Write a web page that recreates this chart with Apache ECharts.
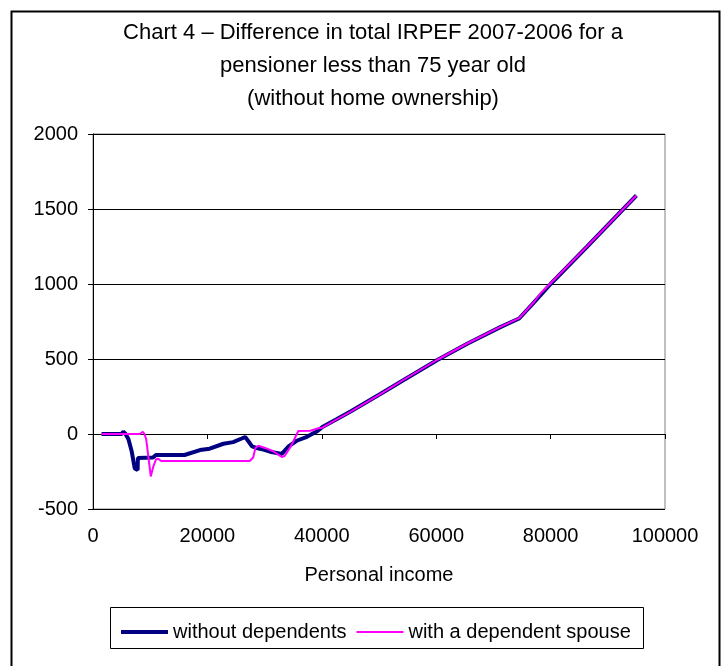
<!DOCTYPE html>
<html>
<head>
<meta charset="utf-8">
<script src="https://cdn.jsdelivr.net/npm/echarts@6/dist/echarts.min.js"></script>
<style>
  html, body { margin: 0; padding: 0; background: #fff; }
  #chart { width: 726px; height: 666px; }
</style>
</head>
<body>
<div id="chart"></div>
<script>
// Personal income (euro) and IRPEF difference 2007-2006 — pensioner without dependents
const incomeNoDep = [1500, 5000, 5300, 5700, 6200, 6750, 7300, 7800, 7850, 10500, 11000, 16000,
  18700, 20400, 22800, 24500, 26000, 26600, 27200, 27800, 28600, 29800, 31200, 33000, 34200,
  35600, 37400, 39100, 40100, 42500, 45100, 50300, 53800, 60200, 65500, 71300, 74500, 77100,
  80000, 86400, 95000];
const diffNoDep = [0, 0, 15, 0, -35, -113, -230, -240, -160, -157, -140, -140,
  -107, -98, -65, -54, -30, -20, -50, -83, -93, -104, -120, -133, -83,
  -45, -19, 16, 47, 97, 152, 268, 348, 493, 603, 714, 770, 877,
  1000, 1250, 1590];

// Pensioner with a dependent spouse
const incomeSpouse = [1500, 8200, 8700, 9000, 9300, 9700, 10100, 10500, 11000, 11400, 11900, 27400,
  28000, 28400, 28900, 30100, 31500, 33000, 33500, 34700, 35500, 35900, 38000, 39400, 40100,
  42500, 45100, 50300, 53800, 60200, 65500, 71300, 74500, 77100, 78300, 80000, 86400, 95000];
const diffSpouse = [0, 0, 15, 0, -35, -157, -283, -223, -170, -165, -180, -180,
  -157, -93, -78, -93, -115, -153, -147, -76, -10, 20, 22, 38, 42,
  95, 150, 268, 350, 495, 605, 716, 772, 880, 940, 1005, 1252, 1590];

const xTicks = [0, 20000, 40000, 60000, 80000, 100000];
const yTicks = [-500, 0, 500, 1000, 1500, 2000];

const seriesNames = ['without dependents', 'with a dependent spouse'];
const titleLines = [
  'Chart 4 \u2013 Difference in total IRPEF 2007-2006 for a',
  'pensioner less than 75 year old',
  '(without home ownership)'
];

const pairs = (xs, ys) => xs.map((x, i) => [x, ys[i]]);
const plain = v => String(v);
const FONT = '"Liberation Sans", Arial, sans-serif';

const chart = echarts.init(document.getElementById('chart'), null, { renderer: 'canvas' });
chart.setOption({
  animation: false,
  backgroundColor: '#ffffff',
  textStyle: { fontFamily: FONT },
  title: {
    text: titleLines.join('\n'),
    left: 368, top: 11, textAlign: 'center',
    textStyle: { fontFamily: FONT, fontSize: 22, fontWeight: 'normal', color: '#000', lineHeight: 33 }
  },
  graphic: [
    { type: 'rect', shape: { x: 11.5, y: 11.5, width: 708, height: 700 },
      style: { fill: 'none', stroke: '#000', lineWidth: 2 }, silent: true, z: 0 },
    { type: 'rect', shape: { x: 110.5, y: 607.5, width: 533, height: 41 },
      style: { fill: '#fff', stroke: '#000', lineWidth: 1 }, silent: true, z: 1 }
  ],
  legend: {
    data: [
      { name: seriesNames[0], icon: 'path://M0,0H47V4H0Z' },
      { name: seriesNames[1], icon: 'path://M0,0H47V2H0Z' }
    ],
    left: 116, top: 617,
    itemWidth: 47, itemHeight: 14, itemGap: 10,
    textStyle: { fontFamily: FONT, fontSize: 20, color: '#000' },
    z: 5
  },
  grid: {
    left: 93, top: 134, width: 572, height: 375,
    show: true, borderColor: '#808080', borderWidth: 1, backgroundColor: '#fff'
  },
  xAxis: [
    {
      type: 'value', min: xTicks[0], max: xTicks[xTicks.length - 1], interval: 20000,
      axisLine: { onZero: true, lineStyle: { color: '#000', width: 1 } },
      axisTick: { show: true, length: 5, inside: false, lineStyle: { color: '#000' } },
      axisLabel: { show: false },
      splitLine: { show: false }
    },
    {
      type: 'value', position: 'bottom', min: xTicks[0], max: xTicks[xTicks.length - 1], interval: 20000,
      axisLine: { show: false, onZero: false },
      axisTick: { show: false },
      axisLabel: { margin: 17, fontFamily: FONT, fontSize: 20, color: '#000', formatter: plain },
      splitLine: { show: false },
      name: 'Personal income', nameLocation: 'middle', nameGap: 56,
      nameTextStyle: { fontFamily: FONT, fontSize: 20, color: '#000' }
    }
  ],
  yAxis: {
    type: 'value', min: yTicks[0], max: yTicks[yTicks.length - 1], interval: 500,
    axisLine: { show: true, onZero: false, lineStyle: { color: '#000', width: 1 } },
    axisTick: { show: true, length: 5, inside: false, lineStyle: { color: '#000' } },
    axisLabel: { margin: 15, fontFamily: FONT, fontSize: 20, color: '#000', formatter: plain },
    splitLine: { show: true, lineStyle: { color: '#000', width: 1 } }
  },
  series: [
    {
      name: seriesNames[0], type: 'line', xAxisIndex: 0,
      data: pairs(incomeNoDep, diffNoDep),
      showSymbol: false, symbol: 'none',
      lineStyle: { color: '#000080', width: 4 },
      itemStyle: { color: '#000080' },
      z: 3
    },
    {
      name: seriesNames[1], type: 'line', xAxisIndex: 0,
      data: pairs(incomeSpouse, diffSpouse),
      showSymbol: false, symbol: 'none',
      lineStyle: { color: '#ff00ff', width: 2 },
      itemStyle: { color: '#ff00ff' },
      z: 4
    }
  ]
});
</script>
</body>
</html>
